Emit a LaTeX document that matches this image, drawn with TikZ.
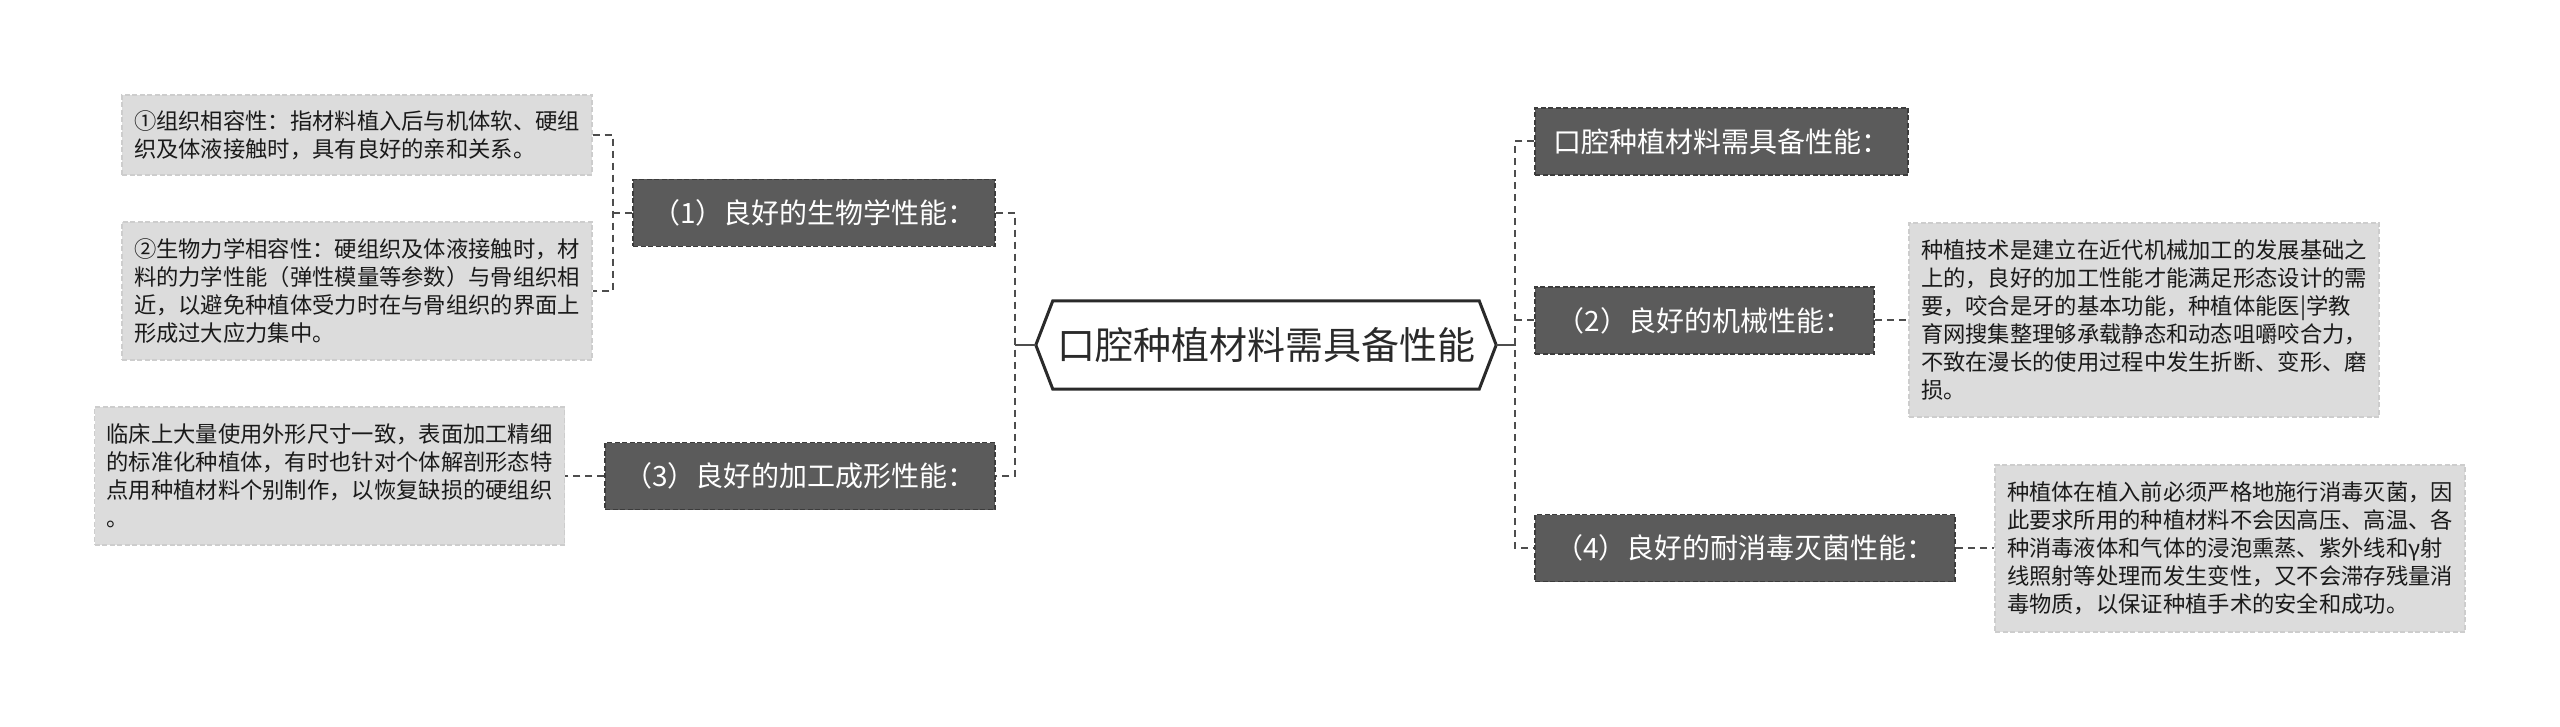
\documentclass[tikz,border=0pt]{standalone}
\usepackage{fontspec}
\newfontfamily\cjk{Noto Sans CJK SC}
\usetikzlibrary{calc}
\definecolor{darkbox}{HTML}{5B5B5B}
\definecolor{darkedge}{HTML}{3C3C3C}
\definecolor{lightbox}{HTML}{DCDCDC}
\definecolor{lightedge}{HTML}{CDCDCD}
\definecolor{linec}{HTML}{4D4D4D}
\definecolor{hexc}{HTML}{2A2A2A}
\definecolor{txt}{HTML}{1A1A1A}
\begin{document}
\begin{tikzpicture}[x=1pt,y=-1pt,
  darknode/.style={fill=darkbox, draw=darkedge, line width=1.5pt, dash pattern=on 5pt off 2.5pt, text=white, font=\cjk\fontsize{28}{34}\selectfont, minimum height=67pt, inner xsep=0pt, inner ysep=0pt},
  lightnode/.style={fill=lightbox, draw=lightedge, line width=1.2pt, dash pattern=on 5pt off 2.5pt, text=txt, font=\cjk\fontsize{22.3}{28}\selectfont, align=left, text width=446pt, inner xsep=12pt, inner ysep=0pt},
  dconn/.style={draw=linec, line width=2pt, dash pattern=on 7pt off 5pt},
  sconn/.style={draw=linec, line width=2.5pt},
]
\fill[white] (0,0) rectangle (2560,727);
\useasboundingbox (0,0) rectangle (2560,727);

% centre
\node[font=\cjk\fontsize{38}{44}\selectfont, text=hexc, minimum width=460pt, minimum height=88pt, inner sep=0pt] (root) at (1266,345) {口腔种植材料需具备性能};
\draw[hexc, line width=3pt, line join=miter] (root.west) -- ($(root.north west)+(17,0)$) -- ($(root.north east)+(-17,0)$) -- (root.east) -- ($(root.south east)+(-17,0)$) -- ($(root.south west)+(17,0)$) -- cycle;

% left branches
\node[darknode, minimum width=362pt] (n1) at (814,213) {（1）良好的生物学性能：};
\node[darknode, minimum width=390pt] (n3) at (800,476) {（3）良好的加工成形性能：};
\node[lightnode, minimum height=80pt] (b1) at (357,135) {①组织相容性：指材料植入后与机体软、硬组\\织及体液接触时，具有良好的亲和关系。};
\node[lightnode, minimum height=138pt] (b2) at (357,291) {②生物力学相容性：硬组织及体液接触时，材\\料的力学性能（弹性模量等参数）与骨组织相\\近，以避免种植体受力时在与骨组织的界面上\\形成过大应力集中。};
\node[lightnode, minimum height=138pt] (b3) at (329.5,476) {临床上大量使用外形尺寸一致，表面加工精细\\的标准化种植体，有时也针对个体解剖形态特\\点用种植材料个别制作，以恢复缺损的硬组织\\。};

% right branches
\node[darknode, minimum width=373pt] (rt) at (1721.5,141.5) {口腔种植材料需具备性能：};
\node[darknode, minimum width=339pt] (n2) at (1704.5,320.5) {（2）良好的机械性能：};
\node[darknode, minimum width=420pt] (n4) at (1745,548) {（4）良好的耐消毒灭菌性能：};
\node[lightnode, minimum height=194pt] (mech) at (2144,320) {种植技术是建立在近代机械加工的发展基础之\\上的，良好的加工性能才能满足形态设计的需\\要，咬合是牙的基本功能，种植体能医|学教\\育网搜集整理够承载静态和动态咀嚼咬合力，\\不致在漫长的使用过程中发生折断、变形、磨\\损。};
\node[lightnode, minimum height=167pt] (gam) at (2230,548.5) {种植体在植入前必须严格地施行消毒灭菌，因\\此要求所用的种植材料不会因高压、高温、各\\种消毒液体和气体的浸泡熏蒸、紫外线和γ射\\线照射等处理而发生变性，又不会滞存残量消\\毒物质，以保证种植手术的安全和成功。};

% junction points
\coordinate (lb) at (1015,345);
\coordinate (c1) at (613,213);
\coordinate (rb) at (1515,345);

% connectors
\draw[dconn] (n1.east) -| (lb) |- (n3.east);
\draw[sconn] (root.west) -- (lb);
\draw[dconn] (b1.east) -| (c1) |- (b2.east);
\draw[dconn] (c1) -- (n1.west);
\draw[dconn] (n3.west) -- (b3.east);
\draw[dconn] (rt.west) -| (rb) |- (n4.west);
\draw[sconn] (root.east) -- (rb);
\draw[dconn] (rb |- n2.west) -- (n2.west);
\draw[dconn] (n2.east) -- (n2.east -| mech.west);
\draw[dconn] (n4.east) -- (n4.east -| gam.west);
\end{tikzpicture}
\end{document}
